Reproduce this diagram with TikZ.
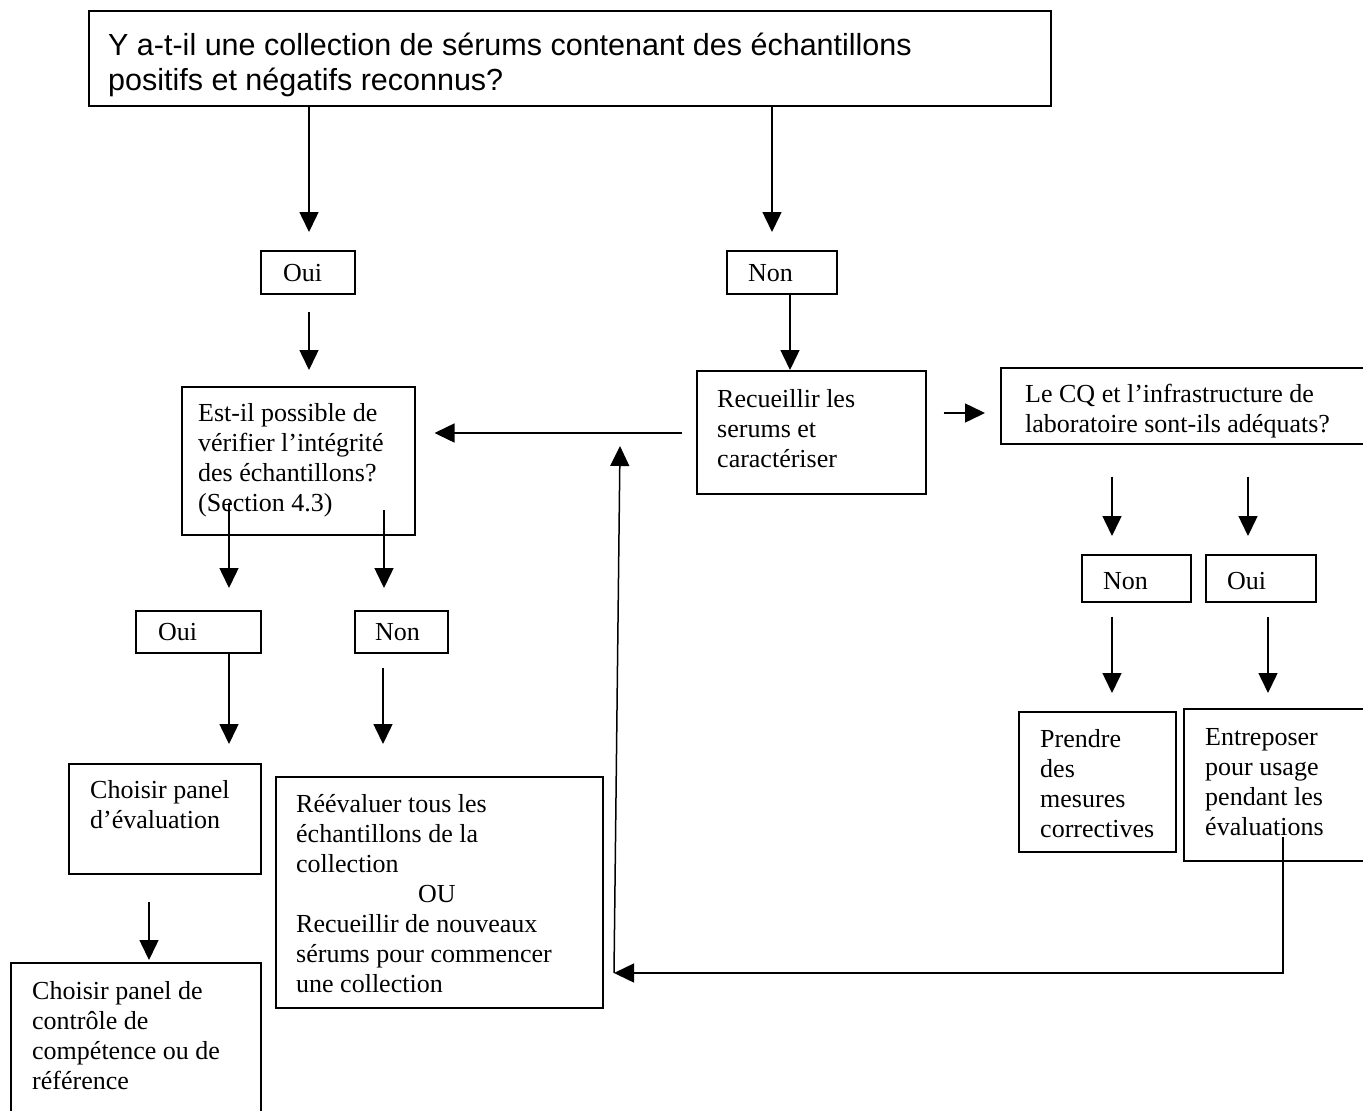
\documentclass[tikz,border=0pt]{standalone}
\usepackage{fontspec}
\setmainfont{Liberation Serif}
\newfontfamily\arialf{Liberation Sans}
\usetikzlibrary{arrows.meta}
\begin{document}
\begin{tikzpicture}[x=1pt,y=-1pt,
  box/.style={draw, line width=1.5pt, inner sep=0pt, anchor=north west},
  txt/.style={anchor=north west, inner sep=0pt, align=left, font=\fontsize{26}{30}\selectfont},
  arr/.style={line width=1.5pt, -{Triangle[width=19pt,length=20pt]}},
  ln/.style={line width=1.5pt}]
\useasboundingbox (0,0) rectangle (1363,1111);
\clip (0,0) rectangle (1363,1111);
% boxes
\node[box, minimum width=962pt, minimum height=95pt] (q1) at (88,10) {};
\node[box, minimum width=94pt, minimum height=43pt] (oui1) at (260,250) {};
\node[box, minimum width=110pt, minimum height=43pt] (non1) at (726,250) {};
\node[box, minimum width=233pt, minimum height=148pt] (q2) at (181,386) {};
\node[box, minimum width=229pt, minimum height=123pt] (rec) at (696,370) {};
\node[box, minimum width=380pt, minimum height=76pt] (q3) at (1000,367) {};
\node[box, minimum width=109pt, minimum height=47pt] (non3) at (1081,554) {};
\node[box, minimum width=110pt, minimum height=47pt] (oui3) at (1205,554) {};
\node[box, minimum width=157pt, minimum height=140pt] (prend) at (1018,711) {};
\node[box, minimum width=197pt, minimum height=152pt] (entre) at (1183,708) {};
\node[box, minimum width=125pt, minimum height=42pt] (oui2) at (135,610) {};
\node[box, minimum width=93pt, minimum height=42pt] (non2) at (354,610) {};
\node[box, minimum width=192pt, minimum height=110pt] (chev) at (68,763) {};
\node[box, minimum width=327pt, minimum height=231pt] (reev) at (275,776) {};
\node[box, minimum width=250pt, minimum height=163pt] (chref) at (10,962) {};
% texts
\node[anchor=north west, inner sep=0pt, align=left, font=\arialf\fontsize{30.5}{35}\selectfont] (q1t) at (108,30.5)
  {\strut Y a-t-il une collection de sérums contenant des échantillons\\positifs et négatifs reconnus?};
\node[txt] (oui1t) at (283,260) {\strut Oui};
\node[txt] (non1t) at (748,260) {\strut Non};
\node[txt] (q2t) at (198,400) {\strut Est-il possible de\\vérifier l’intégrité\\des échantillons?\\(Section 4.3)};
\node[txt] (rect) at (717,386) {\strut Recueillir les\\serums et\\caractériser};
\node[txt] (q3t) at (1025,381) {\strut Le CQ et l’infrastructure de\\laboratoire sont-ils adéquats?};
\node[txt] (non3t) at (1103,568) {\strut Non};
\node[txt] (oui3t) at (1227,568) {\strut Oui};
\node[txt] (prendt) at (1040,726) {\strut Prendre\\des\\mesures\\correctives};
\node[txt] (entret) at (1205,724) {\strut Entreposer\\pour usage\\pendant les\\évaluations};
\node[txt] (oui2t) at (158,619) {\strut Oui};
\node[txt] (non2t) at (375,619) {\strut Non};
\node[txt] (chevt) at (90,777) {\strut Choisir panel\\d’évaluation};
\node[txt] (reevt) at (296,791) {\strut Réévaluer tous les\\échantillons de la\\collection\\\hspace*{122pt}OU\\Recueillir de nouveaux\\sérums pour commencer\\une collection};
\node[txt] (chreft) at (32,978) {\strut Choisir panel de\\contrôle de\\compétence ou de\\référence};
% helper coordinates
\coordinate (q2a) at (229,503);
\coordinate (q2b) at (384,510);
\coordinate (ent) at (1283,837);
\coordinate (ret) at (1283,973);
\coordinate (retL) at (614,973);
\coordinate (retT) at (620,446);
% connectors
\draw[arr, shorten >=18pt] (309,0 |- q1.south) -- (309,0 |- oui1.north);
\draw[arr, shorten >=18pt] (772,0 |- q1.south) -- (772,0 |- non1.north);
\draw[arr, shorten <=17pt, shorten >=16pt] (309,0 |- oui1.south) -- (309,0 |- q2.north);
\draw[arr] (790,0 |- non1.south) -- (790,0 |- rec.north);
\draw[arr, shorten <=14pt, shorten >=19pt] (rec.west |- 0,433) -- (q2.east |- 0,433);
\draw[arr, shorten <=17pt, shorten >=15pt] (rec.east |- 0,413) -- (q3.west |- 0,413);
\draw[arr, shorten <=32pt, shorten >=18pt] (1112,0 |- q3.south) -- (1112,0 |- non3.north);
\draw[arr, shorten <=32pt, shorten >=18pt] (1248,0 |- q3.south) -- (1248,0 |- oui3.north);
\draw[arr, shorten <=14pt, shorten >=18pt] (1112,0 |- non3.south) -- (1112,0 |- prend.north);
\draw[arr, shorten <=14pt, shorten >=15pt] (1268,0 |- oui3.south) -- (1268,0 |- entre.north);
\draw[arr, shorten >=22pt] (q2a) -- (q2a |- oui2.north);
\draw[arr, shorten >=22pt] (q2b) -- (q2b |- non2.north);
\draw[arr, shorten >=19pt] (229,0 |- oui2.south) -- (229,0 |- chev.north);
\draw[arr, shorten <=14pt, shorten >=32pt] (383,0 |- non2.south) -- (383,0 |- reev.north);
\draw[arr, shorten <=27pt, shorten >=2pt] (149,0 |- chev.south) -- (149,0 |- chref.north);
\draw[arr] (ent) -- (ret) -- (retL);
\draw[arr] (retL) -- (retT);
\end{tikzpicture}
\end{document}
